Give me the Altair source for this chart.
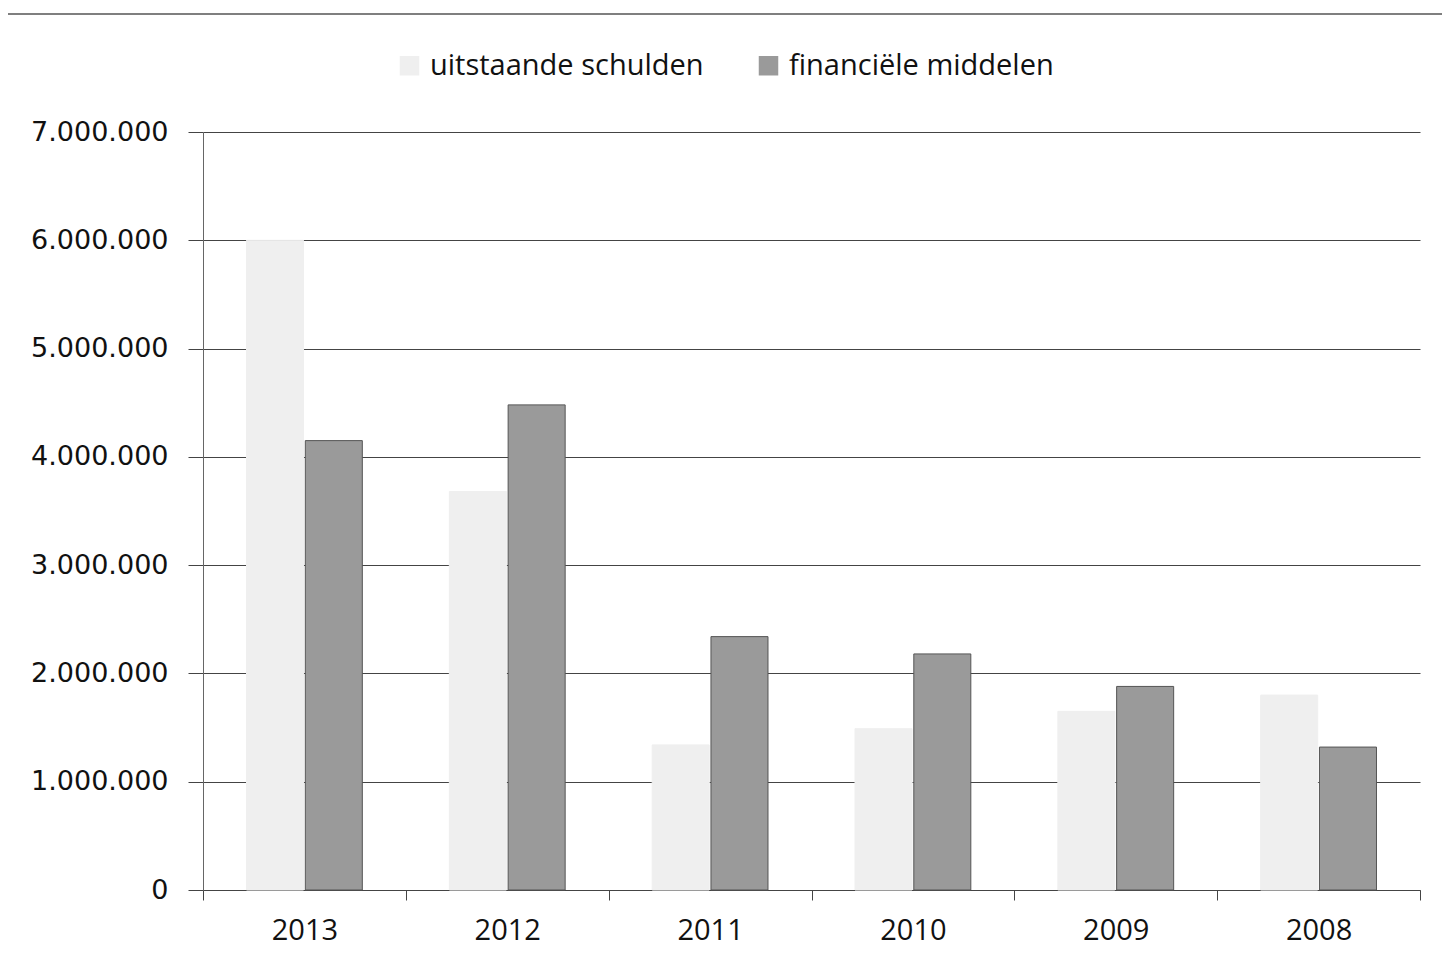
import altair as alt
import pandas as pd

years = ["2013", "2012", "2011", "2010", "2009", "2008"]
series = ["uitstaande schulden", "financiële middelen"]
schulden = [6000000, 3680000, 1340000, 1490000, 1650000, 1800000]
middelen = [4150000, 4480000, 2340000, 2180000, 1880000, 1320000]
y_ticks = [0, 1000000, 2000000, 3000000, 4000000, 5000000, 6000000, 7000000]

rows = []
for i, yr in enumerate(years):
    rows.append({"jaar": yr, "reeks": series[0], "waarde": schulden[i]})
    rows.append({"jaar": yr, "reeks": series[1], "waarde": middelen[i]})
df = pd.DataFrame(rows)

bars = alt.Chart(df).mark_bar(strokeWidth=1).encode(
    x=alt.X("jaar:N", sort=years, title=None,
            scale=alt.Scale(paddingInner=0, paddingOuter=0),
            axis=alt.Axis(labelAngle=0, tickBand="extent", tickSize=10,
                          tickColor="#444444", domainColor="#444444",
                          labelFont="Open Sans", labelFontSize=29,
                          labelColor="#111111", labelPadding=16, grid=False)),
    xOffset=alt.XOffset("reeks:N", sort=series,
                        scale=alt.Scale(paddingInner=0.03, paddingOuter=0.74)),
    y=alt.Y("waarde:Q", title=None,
            scale=alt.Scale(domain=[0, 7000000], nice=False),
            axis=alt.Axis(values=y_ticks, tickSize=15, tickColor="#444444",
                          domainColor="#666666", gridColor="#444444",
                          gridOpacity=1, grid=True,
                          labelFont="DejaVu Sans", labelFontSize=27,
                          labelColor="#111111", labelPadding=20,
                          labelExpr="replace(replace(format(datum.value, ','), ',', '.'), ',', '.')")),
    color=alt.Color("reeks:N", sort=series,
                    scale=alt.Scale(domain=series, range=["#efefef", "#9a9a9a"]),
                    legend=alt.Legend(title=None, orient="none", direction="horizontal",
                                      legendX=192, legendY=-81,
                                      symbolType="square", symbolSize=380,
                                      symbolStrokeWidth=0,
                                      labelFont="Open Sans", labelFontSize=29,
                                      labelColor="#111111", labelOffset=6,
                                      columnPadding=50, labelLimit=400)),
    stroke=alt.Stroke("reeks:N", sort=series,
                      scale=alt.Scale(domain=series, range=["#efefef", "#555555"]),
                      legend=None),
)

topline = alt.Chart(pd.DataFrame({"a": [0]})).mark_rule(
    color="#555555", strokeWidth=1.5
).encode(x=alt.value(-203), x2=alt.value(1247), y=alt.value(-118))

chart = alt.layer(bars, topline).properties(
    width=1217, height=758,
    autosize=alt.AutoSizeParams(type="none"),
    padding={"left": 195, "top": 124, "right": 22, "bottom": 64},
    background="white",
).configure_view(strokeWidth=0)

chart.save("out.html", embed_options={"renderer": "svg", "actions": False})
